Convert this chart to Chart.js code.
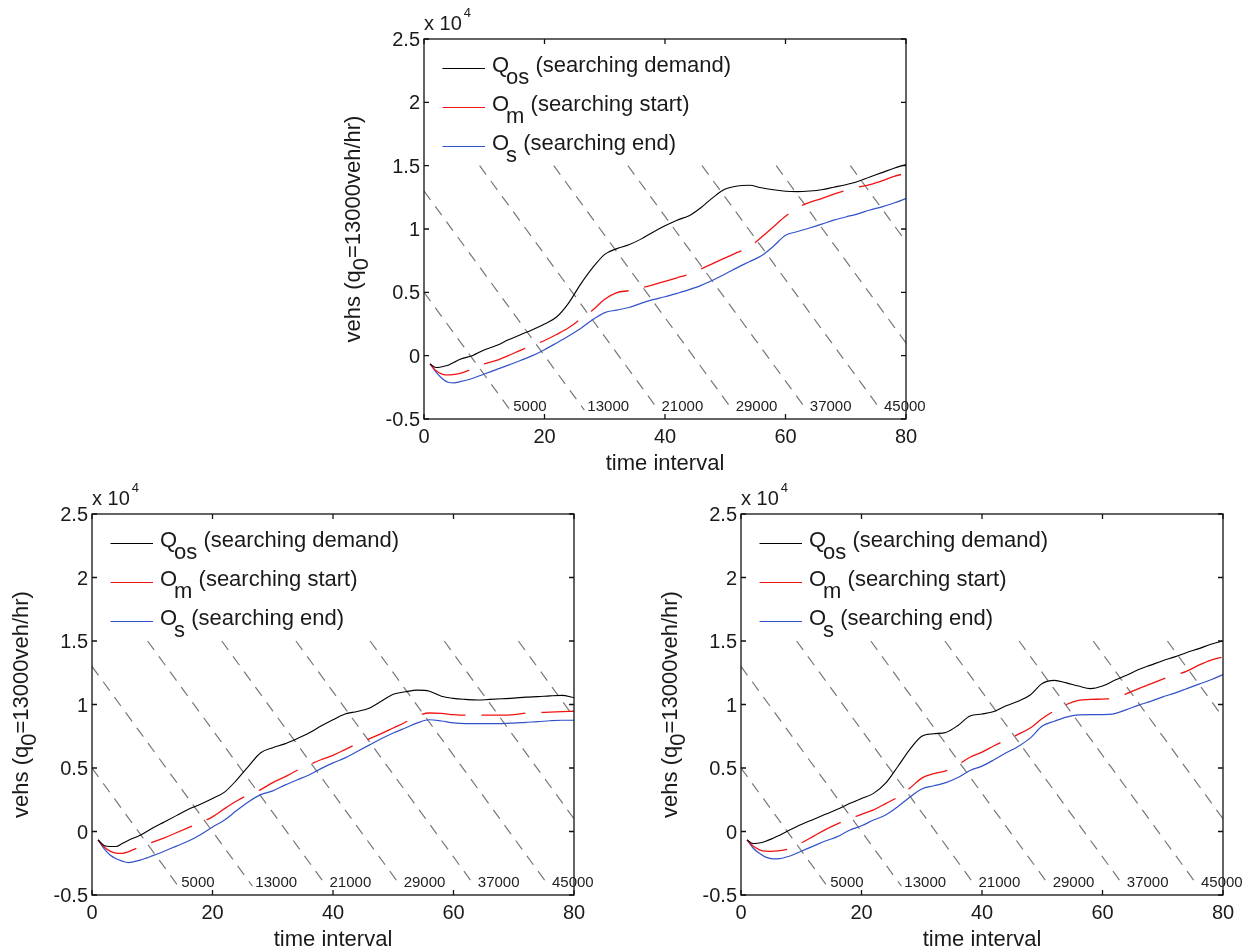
<!DOCTYPE html>
<html>
<head>
<meta charset="utf-8">
<script src="https://cdn.jsdelivr.net/npm/chart.js@4.4.0/dist/chart.umd.min.js"></script>
<style>
  html, body { margin: 0; padding: 0; background: #fff; }
  body { width: 1253px; height: 952px; position: relative; overflow: hidden; }
  .panel { position: absolute; }
</style>
</head>
<body>
<div class="panel" style="left:330px;top:0;width:620px;height:475px"><canvas id="topChart"></canvas></div>
<div class="panel" style="left:0;top:475px;width:626px;height:477px"><canvas id="leftChart"></canvas></div>
<div class="panel" style="left:626px;top:475px;width:627px;height:477px"><canvas id="rightChart"></canvas></div>
<script>
// time intervals (3 min each)
const T = [1, 2, 3, 4, 5, 6, 8, 10, 12, 14, 16, 18, 20, 22, 24, 26, 28, 30, 32, 34, 36, 38, 40,
  42, 44, 46, 48, 50, 52, 54, 56, 58, 60, 62, 64, 66, 68, 70, 72, 74, 76, 78, 80];

// upper panel
const topDemand = [-650, -940, -870, -760, -520, -280, 0, 450, 800, 1250, 1650, 2050, 2500, 3050, 4150,
  5650, 6950, 8000, 8450, 8750, 9200, 9750, 10250, 10700, 11050, 11700, 12500, 13150, 13400, 13450,
  13250, 13100, 12980, 12950, 13000, 13100, 13300, 13500, 13750, 14100, 14450, 14800, 15100];
const topStart = [-650, -1200, -1450, -1520, -1480, -1400, -1050, -650, -380, 0, 420, 800, 1200, 1670,
  2200, 2900, 3600, 4450, 4980, 5130, 5350, 5580, 5870, 6150, 6440, 6850, 7290, 7720, 8150, 8590,
  9350, 10180, 11000, 11680, 12100, 12400, 12750, 13050, 13300, 13500, 13800, 14150, 14400];
const topEnd = [-650, -1300, -1800, -2100, -2150, -2050, -1800, -1450, -1100, -750, -380, 0, 470, 1000,
  1550, 2150, 2840, 3400, 3600, 3800, 4130, 4420, 4650, 4920, 5210, 5550, 5980, 6450, 6950, 7420,
  7890, 8640, 9500, 9800, 10080, 10380, 10700, 10950, 11200, 11500, 11750, 12050, 12400];

// lower left panel
const leftDemand = [-660, -1100, -1180, -1180, -950, -700, -300, 250, 750, 1250, 1750, 2150, 2600, 3100,
  4050, 5150, 6200, 6600, 6900, 7300, 7750, 8300, 8800, 9250, 9450, 9700, 10250, 10800, 11000, 11130,
  11050, 10650, 10480, 10400, 10350, 10400, 10450, 10500, 10580, 10620, 10680, 10720, 10530];
const leftStart = [-660, -1200, -1550, -1700, -1720, -1600, -1200, -850, -500, -100, 300, 700, 1150, 1800,
  2400, 2900, 3300, 3850, 4300, 4800, 5250, 5650, 6000, 6450, 6900, 7300, 7700, 8150, 8600, 9100,
  9330, 9300, 9200, 9160, 9160, 9160, 9160, 9200, 9320, 9370, 9400, 9440, 9470];
const leftEnd = [-660, -1350, -1850, -2150, -2330, -2450, -2250, -1920, -1550, -1150, -750, -250, 350, 900,
  1650, 2350, 2900, 3200, 3650, 4050, 4450, 4950, 5400, 5800, 6300, 6800, 7300, 7750, 8150, 8550,
  8800, 8700, 8550, 8500, 8500, 8500, 8500, 8540, 8600, 8650, 8720, 8760, 8760];

// lower right panel
const rightDemand = [-660, -950, -900, -780, -600, -380, 100, 550, 950, 1350, 1750, 2200, 2600, 3000,
  3800, 5100, 6450, 7500, 7700, 7800, 8350, 9100, 9250, 9450, 9900, 10250, 10750, 11650, 11900, 11700,
  11450, 11250, 11450, 11900, 12300, 12750, 13100, 13450, 13750, 14100, 14400, 14750, 15000];
const rightStart = [-660, -1150, -1420, -1550, -1560, -1530, -1350, -900, -380, 150, 600, 1000, 1350, 1700,
  2200, 2700, 3400, 4200, 4550, 4780, 5250, 5850, 6250, 6750, 7200, 7650, 8150, 8900, 9500, 10000,
  10330, 10400, 10430, 10500, 10850, 11250, 11620, 12000, 12300, 12630, 13100, 13500, 13750];
const rightEnd = [-660, -1300, -1700, -2000, -2130, -2150, -1950, -1550, -1150, -750, -400, 100, 450, 900,
  1300, 1950, 2700, 3350, 3600, 3850, 4250, 4800, 5150, 5650, 6200, 6700, 7350, 8300, 8680, 9000,
  9180, 9210, 9210, 9280, 9600, 9950, 10250, 10600, 10900, 11250, 11600, 11950, 12350];

// constant cumulative-count lines: y = N - q0 * t, q0 = 13000 veh/hr -> 650 veh per interval
const isoCounts = [5000, 13000, 21000, 29000, 37000, 45000, 53000, 61000];
const isoSlope = 650;
const isoTop = 15000;
const isoBottom = -4300;

const FONT = '"Liberation Sans", Arial, Helvetica, sans-serif';
const BLACK = '#000000', RED = '#f21212', BLUE = '#3152c9', GRAY = '#777777';

const legendRows = [
  { main: 'Q', sub: 'os', rest: ' (searching demand)', color: BLACK },
  { main: 'O', sub: 'm', rest: ' (searching start)', color: RED },
  { main: 'O', sub: 's', rest: ' (searching end)', color: BLUE }
];

// draws [text, isSubscript] pieces left to right
function drawRich(ctx, parts, x, y, size, subDrop) {
  let cx = x;
  ctx.font = size + 'px ' + FONT;
  parts.forEach(([txt, sub]) => {
    ctx.fillText(txt, cx, sub ? y + subDrop : y);
    cx += ctx.measureText(txt).width;
  });
  return cx - x;
}

function richWidth(ctx, parts, size) {
  ctx.font = size + 'px ' + FONT;
  return parts.reduce((w, [txt]) => w + ctx.measureText(txt).width, 0);
}

const frame = {
  id: 'frame',
  afterDraw(chart) {
    const { ctx, chartArea: a, scales: { x, y } } = chart;
    ctx.save();

    // axes box with inward ticks on all four sides
    ctx.strokeStyle = '#111';
    ctx.lineWidth = 1.3;
    ctx.strokeRect(a.left, a.top, a.right - a.left, a.bottom - a.top);
    ctx.beginPath();
    x.ticks.forEach(t => {
      const p = x.getPixelForValue(t.value);
      ctx.moveTo(p, a.bottom); ctx.lineTo(p, a.bottom - 5);
      ctx.moveTo(p, a.top); ctx.lineTo(p, a.top + 5);
    });
    y.ticks.forEach(t => {
      const p = y.getPixelForValue(t.value);
      ctx.moveTo(a.left, p); ctx.lineTo(a.left + 5, p);
      ctx.moveTo(a.right, p); ctx.lineTo(a.right - 5, p);
    });
    ctx.stroke();

    // tick labels
    ctx.fillStyle = '#1a1a1a';
    ctx.font = '20px ' + FONT;
    ctx.textBaseline = 'alphabetic';
    ctx.textAlign = 'center';
    x.ticks.forEach(t => ctx.fillText(String(t.value), x.getPixelForValue(t.value), a.bottom + 24));
    ctx.textAlign = 'right';
    y.ticks.forEach(t => ctx.fillText(String(t.value / 1e4), a.left - 4, y.getPixelForValue(t.value) + 7));

    // exponent above the y axis
    ctx.textAlign = 'left';
    ctx.font = '20px ' + FONT;
    ctx.fillText('x 10', a.left, a.top - 9);
    const ew = ctx.measureText('x 10').width;
    ctx.font = '13px ' + FONT;
    ctx.fillText('4', a.left + ew + 2, a.top - 22);

    // count labels at the foot of each constant-count line
    ctx.font = '15px ' + FONT;
    ctx.fillStyle = '#222';
    isoCounts.forEach(n => {
      const tEnd = (n - isoBottom) / isoSlope;
      if (tEnd > x.max) return;
      ctx.fillText(String(n), x.getPixelForValue(tEnd) + 3, y.getPixelForValue(isoBottom) + 1);
    });

    // x title
    ctx.fillStyle = '#1a1a1a';
    ctx.font = '22px ' + FONT;
    ctx.textAlign = 'center';
    ctx.fillText('time interval', (a.left + a.right) / 2, a.bottom + 51);

    // y title with subscript
    const yParts = [['vehs (q', false], ['0', true], ['=13000veh/hr)', false]];
    ctx.save();
    ctx.translate(a.left - 64, (a.top + a.bottom) / 2);
    ctx.rotate(-Math.PI / 2);
    ctx.textAlign = 'left';
    const yw = richWidth(ctx, yParts, 22);
    drawRich(ctx, yParts, -yw / 2, 0, 22, 8);
    ctx.restore();

    // legend
    ctx.textAlign = 'left';
    legendRows.forEach((row, i) => {
      const ly = a.top + 29.5 + i * 39;
      ctx.strokeStyle = row.color;
      ctx.lineWidth = 1.1;
      ctx.beginPath();
      ctx.moveTo(a.left + 18.5, ly);
      ctx.lineTo(a.left + 61, ly);
      ctx.stroke();
      ctx.fillStyle = '#1a1a1a';
      ctx.font = '22px ' + FONT;
      const tx = a.left + 68;
      const base = ly + 3.5;
      ctx.fillText(row.main, tx, base);
      const mw = ctx.measureText(row.main).width - 3;
      ctx.fillText(row.sub, tx + mw, base + 11.5);
      const sw = ctx.measureText(row.sub).width;
      ctx.fillText(row.rest, tx + mw + sw, base);
    });

    ctx.restore();
  }
};

function points(vals) {
  return T.map((t, i) => ({ x: t, y: vals[i] }));
}

function isoDataset(n) {
  const t0 = Math.max(0, (n - isoTop) / isoSlope);
  const t1 = (n - isoBottom) / isoSlope;
  return {
    data: [{ x: t0, y: n - isoSlope * t0 }, { x: t1, y: isoBottom }],
    borderColor: GRAY,
    borderWidth: 1.2,
    borderDash: [11, 8]
  };
}

function makeChart(id, demand, start, end, box) {
  return new Chart(document.getElementById(id), {
    type: 'line',
    data: {
      datasets: [
        { label: 'Qos (searching demand)', data: points(demand), borderColor: BLACK, borderWidth: 1.1 },
        { label: 'Om (searching start)', data: points(start), borderColor: RED, borderWidth: 1.3, borderDash: [44, 16] },
        { label: 'Os (searching end)', data: points(end), borderColor: BLUE, borderWidth: 1.2 }
      ].concat(isoCounts.map(isoDataset))
    },
    options: {
      responsive: true,
      maintainAspectRatio: false,
      animation: false,
      layout: { padding: { top: box.top, right: box.right, left: 0, bottom: 0 } },
      elements: {
        point: { radius: 0 },
        line: { cubicInterpolationMode: 'monotone', fill: false }
      },
      plugins: { legend: { display: false }, tooltip: { enabled: false } },
      scales: {
        x: {
          type: 'linear', min: 0, max: 80,
          ticks: { display: false, stepSize: 20 },
          grid: { display: false, drawTicks: false },
          border: { display: false },
          afterFit: s => { s.height = box.xh; }
        },
        y: {
          type: 'linear', min: -5000, max: 25000,
          ticks: { display: false, stepSize: 5000 },
          grid: { display: false, drawTicks: false },
          border: { display: false },
          afterFit: s => { s.width = box.yw; }
        }
      }
    },
    plugins: [frame]
  });
}

makeChart('topChart', topDemand, topStart, topEnd, { top: 39, right: 44, yw: 94, xh: 56 });
makeChart('leftChart', leftDemand, leftStart, leftEnd, { top: 39, right: 52, yw: 92, xh: 57 });
makeChart('rightChart', rightDemand, rightStart, rightEnd, { top: 39, right: 30, yw: 115, xh: 57 });
</script>
</body>
</html>
